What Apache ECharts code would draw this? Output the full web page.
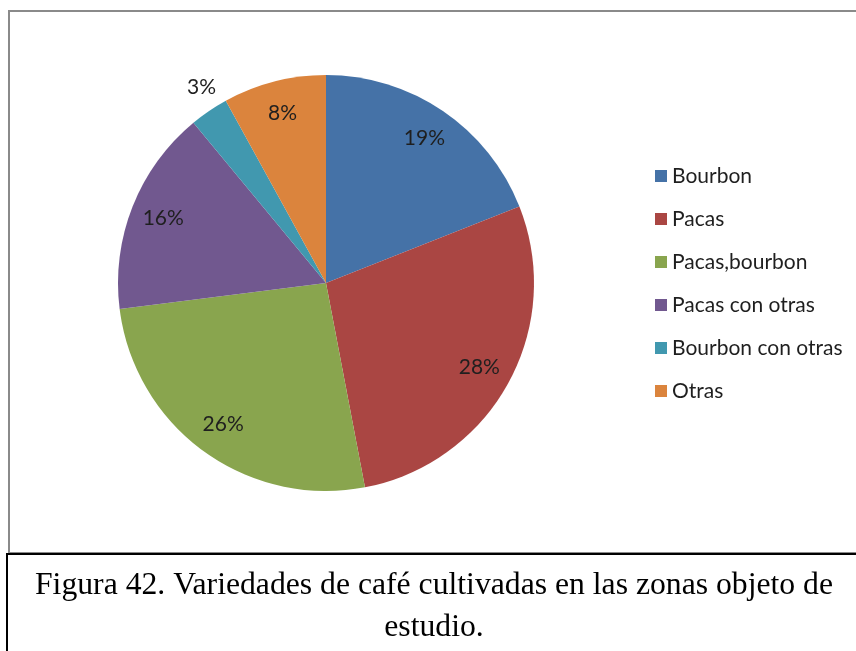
<!DOCTYPE html>
<html>
<head>
<meta charset="utf-8">
<script src="https://cdn.jsdelivr.net/npm/echarts@6/dist/echarts.min.js"></script>
<style>
html,body{margin:0;padding:0;background:#fff;}
#chart{width:856px;height:651px;}
</style>
</head>
<body>
<div id="chart"></div>
<script>
const categories = ['Bourbon', 'Pacas', 'Pacas,bourbon', 'Pacas con otras', 'Bourbon con otras', 'Otras'];
const values = [19, 28, 26, 16, 3, 8];
const colors = ['#4572A7', '#AA4643', '#89A54E', '#71588F', '#4198AF', '#DB843D'];
const outsideLabelItems = ['Bourbon con otras'];
const captionLines = ['Figura 42. Variedades de café cultivadas en las zonas objeto de', 'estudio.'];

const chart = echarts.init(document.getElementById('chart'), null, {renderer: 'canvas'});

const pieData = categories.map((c, i) => ({name: c, value: values[i], itemStyle: {color: colors[i]}}));
const labelFont = {fontFamily: 'Lato', fontSize: 21, color: '#1f1f1f'};

const center = [326, 283];
const R = 208;

const option = {
  animation: false,
  backgroundColor: '#fff',
  legend: {
    orient: 'vertical',
    left: 655,
    top: 165,
    padding: 0,
    itemWidth: 12,
    itemHeight: 12,
    itemGap: 21,
    icon: 'rect',
    selectedMode: false,
    data: categories,
    textStyle: {fontFamily: 'Lato', fontSize: 21, color: '#1f1f1f', lineHeight: 22, padding: [0, 0, 0, 0]}
  },
  graphic: [
    {type: 'rect', shape: {x: 9, y: 11, width: 870, height: 542}, style: {fill: 'none', stroke: '#8a8a8a', lineWidth: 2}, silent: true, z: -1},
    {type: 'rect', shape: {x: 7, y: 554, width: 870, height: 120}, style: {fill: '#fff', stroke: '#000', lineWidth: 2}, silent: true, z: 10},
    {type: 'text', x: 434, y: 607, z: 11, silent: true,
      style: {text: captionLines.join('\n'), fontFamily: 'Liberation Serif', fontSize: 31.7, lineHeight: 42,
        fill: '#000', align: 'center', verticalAlign: 'middle'}}
  ],
  series: [
    {
      type: 'pie',
      center: center,
      radius: [0, R],
      startAngle: 90,
      clockwise: true,
      silent: true,
      label: {show: false},
      labelLine: {show: false},
      data: pieData
    },
    {
      type: 'pie',
      center: center,
      radius: [0, 344],
      startAngle: 90,
      clockwise: true,
      silent: true,
      itemStyle: {color: 'rgba(0,0,0,0)'},
      label: Object.assign({show: true, position: 'inside', formatter: '{c}%'}, labelFont),
      labelLine: {show: false},
      data: categories.map((c, i) => ({name: c, value: values[i],
        label: {show: outsideLabelItems.indexOf(c) < 0}}))
    },
    {
      type: 'pie',
      center: center,
      radius: [0, 458],
      startAngle: 90,
      clockwise: true,
      silent: true,
      itemStyle: {color: 'rgba(0,0,0,0)'},
      label: Object.assign({show: true, position: 'inside', formatter: '{c}%'}, labelFont),
      labelLine: {show: false},
      labelLayout: function (p) { return {dx: 6, dy: -4}; },
      data: categories.map((c, i) => ({name: c, value: values[i],
        label: {show: outsideLabelItems.indexOf(c) >= 0}}))
    }
  ]
};
chart.setOption(option);
</script>
</body>
</html>
